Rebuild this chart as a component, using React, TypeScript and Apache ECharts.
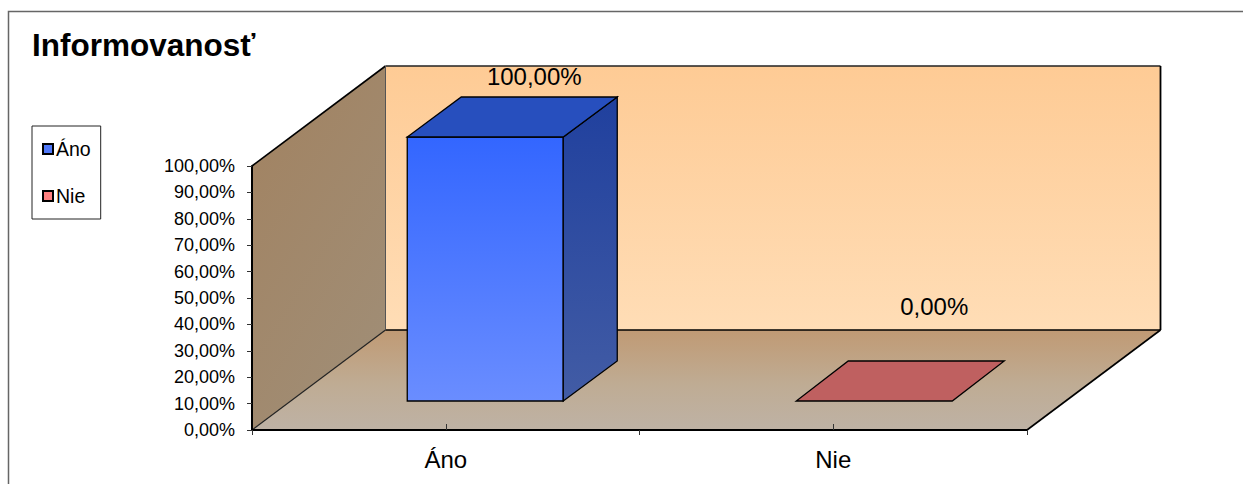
import React, { useEffect, useRef } from "react";
import * as echarts from "echarts";

const categories = ["Áno", "Nie"];
const seriesNames = ["Áno", "Nie"];
const anoValues = [1, null];
const nieValues = [null, 0];
const titleText = "Informovanosť";

const FONT = '"Liberation Sans", Arial, sans-serif';
const fmt = (v: number) => (v * 100).toFixed(2).replace(".", ",") + "%";

// 3D projection of the chart box and the bar inside it
const DEPTH_X = 133.5;
const DEPTH_Y = -100;
const BAR_SHIFT_Y = -29;
const BAR_DEPTH_Y = -40;
const BAR_WIDTH = 156;

const vGrad = (top: string, bottom: string) =>
  new echarts.graphic.LinearGradient(0, 0, 0, 1, [
    { offset: 0, color: top },
    { offset: 1, color: bottom },
  ]);

const poly = (points: number[][], fill: any, stroke: string, lineWidth: number) => ({
  type: "polygon",
  shape: { points },
  style: { fill, stroke, lineWidth },
});

function renderWalls(params: any) {
  const { x, y, width, height } = params.coordSys;
  const b = y + height;
  const r = x + width;
  const dx = DEPTH_X;
  const dy = DEPTH_Y;
  return {
    type: "group",
    children: [
      poly(
        [[x + dx, y + dy], [r + dx, y + dy], [r + dx, b + dy], [x + dx, b + dy]],
        vGrad("#FECB95", "#FFDDB6"),
        "#000",
        0
      ),
      poly(
        [[x, y], [x + dx, y + dy], [x + dx, b + dy], [x, b]],
        new echarts.graphic.LinearGradient(0, 0, 0.6, 1, [
          { offset: 0, color: "#A28260" },
          { offset: 1, color: "#A08D75" },
        ]),
        "#000",
        0
      ),
      poly(
        [[x, b], [r, b], [r + dx, b + dy], [x + dx, b + dy]],
        new echarts.graphic.LinearGradient(0, 0, 0, 1, [
          { offset: 0, color: "#C09A74" },
          { offset: 0.55, color: "#BFAC94" },
          { offset: 1, color: "#BEB2A5" },
        ]),
        "#000",
        0
      ),
      { type: "line", shape: { x1: x, y1: y, x2: x + dx, y2: y + dy }, style: { stroke: "#000", lineWidth: 1.6 } },
      { type: "line", shape: { x1: x + dx, y1: y + dy, x2: r + dx, y2: y + dy }, style: { stroke: "#222", lineWidth: 1.4 } },
      { type: "line", shape: { x1: r + dx, y1: y + dy, x2: r + dx, y2: b + dy }, style: { stroke: "#000", lineWidth: 1.8 } },
      { type: "line", shape: { x1: x + dx, y1: b + dy, x2: r + dx, y2: b + dy }, style: { stroke: "#000", lineWidth: 1.6 } },
      { type: "line", shape: { x1: x + dx, y1: y + dy, x2: x + dx, y2: b + dy }, style: { stroke: "#555", lineWidth: 1 } },
      { type: "line", shape: { x1: x, y1: b, x2: x + dx, y2: b + dy }, style: { stroke: "#222", lineWidth: 1.2 } },
      { type: "line", shape: { x1: r, y1: b, x2: r + dx, y2: b + dy }, style: { stroke: "#000", lineWidth: 1.6 } },
    ],
  };
}

function barRenderer(colors: any, shiftX: number, depthX: number, labelDx: number, labelDy: number) {
  return (_params: any, api: any) => {
    const cat = api.value(0);
    const val = api.value(1);
    const top = api.coord([cat, val]);
    const base = api.coord([cat, 0]);
    const xL = top[0] - BAR_WIDTH / 2 + shiftX;
    const xR = xL + BAR_WIDTH;
    const yT = top[1] + BAR_SHIFT_Y;
    const yB = base[1] + BAR_SHIFT_Y;
    const dx = depthX;
    const dy = BAR_DEPTH_Y;
    const children: any[] = [];
    if (yB - yT > 0.5) {
      children.push(poly([[xL, yT], [xR, yT], [xR, yB], [xL, yB]], vGrad(colors.frontTop, colors.frontBottom), "#000", 1.3));
      children.push(poly([[xR, yT], [xR + dx, yT + dy], [xR + dx, yB + dy], [xR, yB]], vGrad(colors.sideTop, colors.sideBottom), "#000", 1.3));
    }
    children.push(poly([[xL, yT], [xR, yT], [xR + dx, yT + dy], [xL + dx, yT + dy]], colors.top, "#000", 1.3));
    children.push({
      type: "text",
      x: (xL + xR) / 2 + labelDx,
      y: yT + labelDy,
      style: {
        text: fmt(val),
        font: `24px ${FONT}`,
        fill: "#000",
        align: "center",
        verticalAlign: "middle",
      },
    });
    return { type: "group", children };
  };
}

export default function App() {
  const ref = useRef<HTMLDivElement>(null);
  useEffect(() => {
    if (!ref.current) return;
    const chart = echarts.init(ref.current, undefined, { renderer: "svg" });
    const option: any = {
      animation: false,
      backgroundColor: "#fff",
      title: {
        text: titleText,
        left: 32,
        top: 29,
        padding: 0,
        textStyle: { fontFamily: FONT, fontSize: 31.5, fontWeight: "bold", color: "#000" },
      },
      legend: {
        show: true,
        orient: "vertical",
        left: 32,
        top: 126,
        padding: [13, 10, 13, 10],
        borderColor: "#222",
        borderWidth: 1,
        backgroundColor: "#fff",
        itemWidth: 10,
        itemHeight: 10,
        itemGap: 27,
        selectedMode: false,
        textStyle: { fontFamily: FONT, fontSize: 19.5, color: "#000", padding: [0, 0, 0, -2] },
        data: [
          { name: seriesNames[0], icon: "rect", itemStyle: { color: "#5078F8", borderColor: "#000", borderWidth: 2 } },
          { name: seriesNames[1], icon: "rect", itemStyle: { color: "#FF8080", borderColor: "#000", borderWidth: 2 } },
        ],
      },
      grid: { left: 252, top: 166, width: 775, height: 264, containLabel: false },
      xAxis: [
        {
          type: "category",
          data: categories,
          z: 10,
          axisLine: { show: true, lineStyle: { color: "#000", width: 2 } },
          axisTick: { show: true, inside: false, length: 5, lineStyle: { color: "#333", width: 1 } },
          axisLabel: { fontFamily: FONT, fontSize: 24, color: "#000", margin: 17 },
        },
        {
          type: "category",
          data: categories,
          position: "bottom",
          z: 10,
          axisLine: { show: false },
          axisTick: { show: true, inside: true, alignWithLabel: true, length: 6, lineStyle: { color: "#333", width: 1 } },
          axisLabel: { show: false },
        },
      ],
      yAxis: {
        type: "value",
        min: 0,
        max: 1,
        interval: 0.1,
        z: 10,
        splitLine: { show: false },
        axisLine: { show: true, lineStyle: { color: "#000", width: 2 } },
        axisTick: { show: true, length: 5, lineStyle: { color: "#333", width: 1 } },
        axisLabel: { fontFamily: FONT, fontSize: 18, color: "#000", margin: 17, formatter: fmt },
      },
      graphic: [
        {
          type: "polyline",
          silent: true,
          shape: { points: [[8.5, 484], [8.5, 11.5], [1243, 11.5]] },
          style: { stroke: "#666", lineWidth: 1.5, fill: "none" },
        },
      ],
      series: [
        {
          type: "custom",
          name: "walls",
          z: 1,
          silent: true,
          renderItem: renderWalls,
          data: [[0, 0]],
          encode: { x: 0, y: 1 },
          tooltip: { show: false },
        },
        {
          type: "custom",
          name: seriesNames[0],
          z: 2,
          renderItem: barRenderer(
            { frontTop: "#3366FF", frontBottom: "#6A8DFF", top: "#274FBE", sideTop: "#20409E", sideBottom: "#425CA5" },
            39.5,
            54,
            49,
            -61
          ),
          data: anoValues.map((v, i) => [i, v]).filter((d) => d[1] !== null),
          encode: { x: 0, y: 1 },
        },
        {
          type: "custom",
          name: seriesNames[1],
          z: 2,
          renderItem: barRenderer(
            { frontTop: "#BF6060", frontBottom: "#BF6060", top: "#BF6060", sideTop: "#BF6060", sideBottom: "#BF6060" },
            41,
            52,
            60,
            -95
          ),
          data: nieValues.map((v, i) => [i, v]).filter((d) => d[1] !== null),
          encode: { x: 0, y: 1 },
        },
      ],
    };
    chart.setOption(option);
    return () => chart.dispose();
  }, []);
  return (
    <div
      ref={ref}
      style={{ position: "fixed", left: 0, top: 0, width: 1243, height: 484 }}
    />
  );
}
